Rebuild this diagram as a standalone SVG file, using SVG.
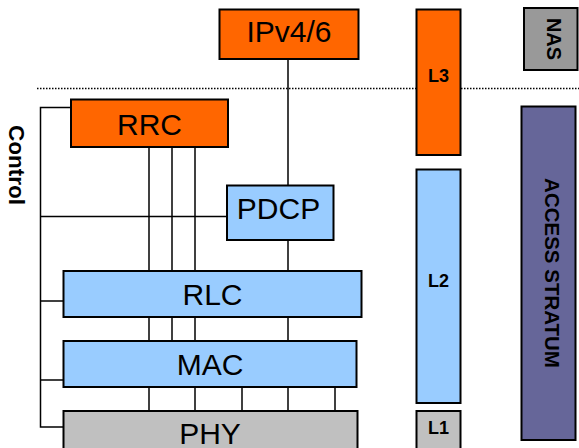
<svg xmlns="http://www.w3.org/2000/svg" width="579" height="448" viewBox="0 0 579 448">
<style>
.box{stroke:#000;stroke-width:2}
.or{fill:#FF6600}
.bl{fill:#99CCFF}
.gr{fill:#C0C0C0}
.lbl{font-family:"Liberation Sans",Arial,sans-serif;font-size:30px;fill:#000;text-anchor:middle}
.bold{font-family:"Liberation Sans",Arial,sans-serif;font-weight:bold;fill:#000;text-anchor:middle}
.ln{stroke:#000;stroke-width:1.5;fill:none}
.dot{stroke:#000;stroke-width:1.3;stroke-dasharray:1.5 1.5;fill:none}
</style>
<rect width="579" height="448" fill="#fff"/>
<g id="separator">
<line class="dot" x1="37" y1="88.5" x2="417" y2="88.5"/>
<line class="dot" x1="461" y1="88.5" x2="579" y2="88.5"/>
</g>
<g id="connectors">
<polyline class="ln" points="71,107.5 40.5,107.5 40.5,427 63,427"/>
<line class="ln" x1="40.5" y1="216.5" x2="227" y2="216.5"/>
<line class="ln" x1="40.5" y1="301" x2="63" y2="301"/>
<line class="ln" x1="40.5" y1="380" x2="63" y2="380"/>
<line class="ln" x1="149" y1="147" x2="149" y2="271"/>
<line class="ln" x1="172" y1="147" x2="172" y2="271"/>
<line class="ln" x1="195" y1="147" x2="195" y2="271"/>
<line class="ln" x1="288" y1="59" x2="288" y2="185"/>
<line class="ln" x1="288" y1="240" x2="288" y2="271"/>
<line class="ln" x1="149" y1="317" x2="149" y2="341"/>
<line class="ln" x1="172" y1="317" x2="172" y2="341"/>
<line class="ln" x1="195" y1="317" x2="195" y2="341"/>
<line class="ln" x1="288" y1="317" x2="288" y2="341"/>
<line class="ln" x1="149" y1="387" x2="149" y2="411"/>
<line class="ln" x1="195" y1="387" x2="195" y2="411"/>
<line class="ln" x1="242" y1="387" x2="242" y2="411"/>
<line class="ln" x1="288" y1="387" x2="288" y2="411"/>
<line class="ln" x1="335" y1="387" x2="335" y2="411"/>
</g>
<g id="ipv46">
<rect class="box or" x="219.5" y="9.5" width="139" height="49.5"/>
<text class="lbl" x="289" y="42">IPv4/6</text>
</g>
<g id="rrc">
<rect class="box or" x="71" y="99.5" width="157" height="47.5"/>
<text class="lbl" x="149.5" y="135">RRC</text>
</g>
<g id="pdcp">
<rect class="box bl" x="227" y="185.5" width="106.5" height="54.5"/>
<text class="lbl" x="278.5" y="218.5">PDCP</text>
</g>
<g id="rlc">
<rect class="box bl" x="63.5" y="271" width="298" height="46"/>
<text class="lbl" x="212.5" y="305">RLC</text>
</g>
<g id="mac">
<rect class="box bl" x="63.5" y="341" width="293" height="46"/>
<text class="lbl" x="210" y="375">MAC</text>
</g>
<g id="phy">
<rect class="box gr" x="63.5" y="411" width="294" height="45"/>
<text class="lbl" x="210" y="443.5">PHY</text>
</g>
<g id="control">
<text class="bold" font-size="22" textLength="80" lengthAdjust="spacingAndGlyphs" transform="translate(8.5,165) rotate(90)">Control</text>
</g>
<g id="l3">
<rect class="box or" x="416.5" y="9.5" width="44" height="145.5"/>
<text class="bold" font-size="18" x="438.5" y="81.5">L3</text>
</g>
<g id="l2">
<rect class="box bl" x="416.5" y="169.5" width="44" height="233.5"/>
<text class="bold" font-size="18" x="438.5" y="287">L2</text>
</g>
<g id="l1">
<rect class="box gr" x="416.5" y="411" width="44" height="45"/>
<text class="bold" font-size="18" x="438.5" y="433.5">L1</text>
</g>
<g id="nas">
<rect class="box" fill="#999999" x="524" y="8" width="53.5" height="62"/>
<text class="bold" font-size="20" transform="translate(546.5,39) rotate(90)">NAS</text>
</g>
<g id="access-stratum">
<rect class="box" fill="#666699" x="521.5" y="106.5" width="54" height="333.5"/>
<text class="bold" font-size="20.5" transform="translate(545,273) rotate(90)">ACCESS STRATUM</text>
</g>
</svg>
